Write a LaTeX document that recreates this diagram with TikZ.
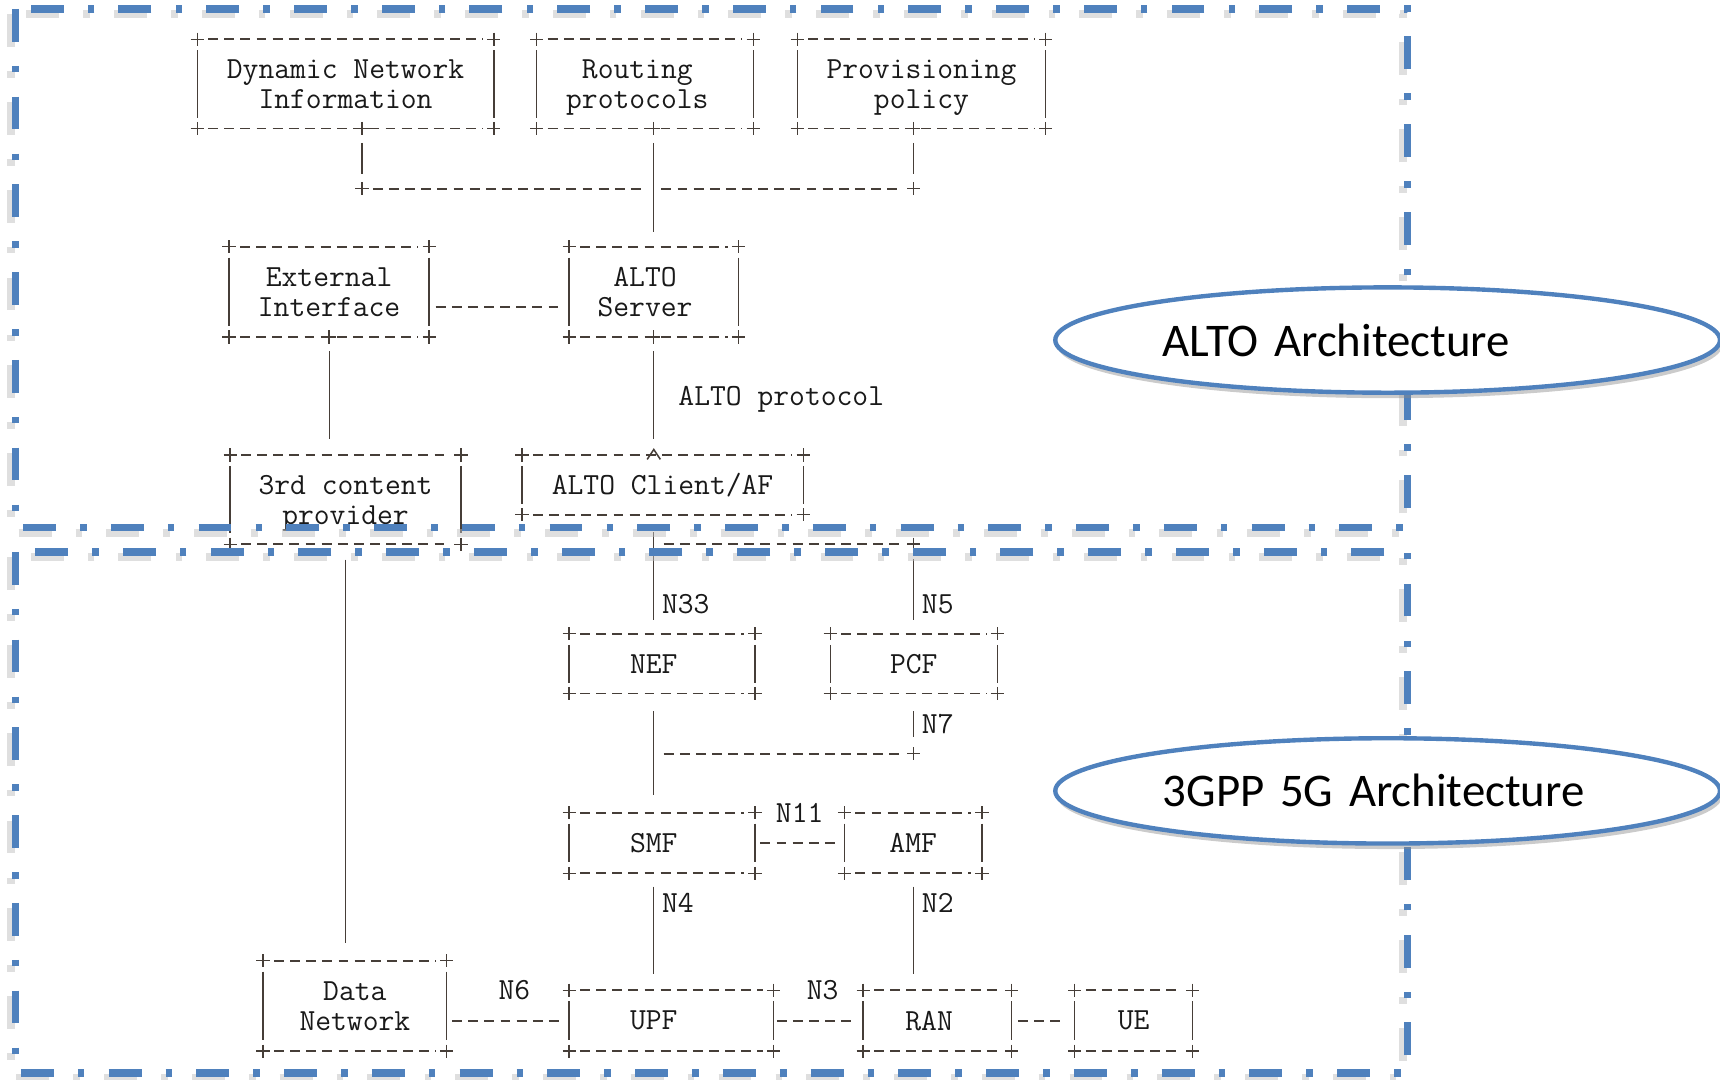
\documentclass[tikz,border=0pt]{standalone}
\usepackage{fontspec}
\usepackage{xcolor}
\usepackage{tikz}
\usetikzlibrary{positioning, calc, shapes.geometric, shadows}
\newfontfamily\calibrifont{Carlito}
\definecolor{frameblue}{RGB}{79,129,189}
\definecolor{asciiline}{RGB}{70,62,56}
\definecolor{asciitext}{RGB}{25,25,25}
\newcommand{\asciifont}{\fontsize{28}{27.3}\selectfont\ttfamily}
\newcommand{\nodesc}[1]{\raisebox{0pt}[\height][0pt]{#1}}
\newcommand{\plusmark}[1]{\draw[asciisolid] #1 ++(-6,0) -- ++(12,0) #1 ++(0,-6) -- ++(0,12);}

\begin{document}
\begin{tikzpicture}[x=1pt, y=-1pt,
    asciibox/.style={inner sep=0pt, align=center, font=\asciifont, text=asciitext},
    hlink/.style={draw=asciiline, line width=1.7pt, dash pattern=on 9pt off 5.7pt},
    vlink/.style={draw=asciiline, line width=1pt, shorten <=13pt, shorten >=13pt},
    asciisolid/.style={draw=asciiline, line width=1.2pt},
    lbl/.style={font=\asciifont, text=asciitext, inner sep=0pt},
    frame/.style={draw=frameblue, line width=7pt, dash pattern=on 30pt off 22pt on 6pt off 22pt},
    frameshade/.style={frame, draw=black!25, opacity=.5},
    archell/.style={ellipse, draw=frameblue, line width=4pt, fill=white,
        minimum width=606, minimum height=96, text width=410pt, align=left,
        font=\fontsize{42.7}{50}\calibrifont,
        drop shadow={shadow xshift=2pt, shadow yshift=-5pt, fill=black!45, opacity=.45}}
]
\useasboundingbox (0,0) rectangle (1568,984);

% ALTO side
\node[asciibox, minimum width=270, minimum height=81] (dni) at (315,76.5) {Dynamic Network\\Information};
\node[asciibox, minimum width=197, minimum height=81] (rtp) at (588,76.5) {Routing\hspace*{14pt}\\\nodesc{protocols}\hspace*{14pt}};
\node[asciibox, minimum width=226, minimum height=81] (pol) at (840,76.5) {Provisioning\\\nodesc{policy}};
\node[asciibox, minimum width=182, minimum height=82] (ext) at (300,266) {External\\Interface};
\node[asciibox, minimum width=154, minimum height=82] (srv) at (596,266) {ALTO\hspace*{16pt}\\Server\hspace*{16pt}};
\node[asciibox, minimum width=210, minimum height=81] (cnt) at (315,455.5) {3rd content\\\nodesc{provider}};
\node[asciibox, minimum width=256, minimum height=54] (cli) at (604,442) {ALTO Client/AF};

% 3GPP side
\node[asciibox, minimum width=169, minimum height=54] (nef) at (603.5,605) {NEF\hspace*{15pt}};
\node[asciibox, minimum width=152, minimum height=54] (pcf) at (833,605) {PCF};
\node[asciibox, minimum width=169, minimum height=55] (smf) at (603.5,768.5) {SMF\hspace*{15pt}};
\node[asciibox, minimum width=125, minimum height=55] (amf) at (832.5,768.5) {AMF};
\node[asciibox, minimum width=167, minimum height=82] (dn) at (323.5,917) {Data\\Network};
\node[asciibox, minimum width=186, minimum height=55] (upf) at (612,930.5) {UPF\hspace*{32pt}};
\node[asciibox, minimum width=135, minimum height=55] (ran) at (854.5,930.5) {RAN\hspace*{15pt}};
\node[asciibox, minimum width=107, minimum height=55] (ue) at (1033.5,930.5) {UE};

% box borders, ascii style
\foreach \b in {dni,rtp,pol,ext,srv,cnt,cli,nef,pcf,smf,amf,dn,upf,ran,ue}{
    \draw[hlink] ([xshift=10pt]\b.north west) -- ([xshift=-10pt]\b.north east)
                 ([xshift=10pt]\b.south west) -- ([xshift=-10pt]\b.south east);
    \draw[asciisolid] ([yshift=-10pt]\b.north west) -- ([yshift=10pt]\b.south west)
                      ([yshift=-10pt]\b.north east) -- ([yshift=10pt]\b.south east);
    \foreach \c in {north west,north east,south west,south east}{
        \plusmark{(\b.\c)}
    }
}

% inputs of the ALTO server
\coordinate (busL) at (330,172);
\coordinate (busR) at (833,172);
\draw[vlink] (dni.south -| busL) -- (busL);
\draw[vlink] (pol.south -| busR) -- (busR);
\draw[vlink] (rtp.south -| srv) -- (srv.north);
\draw[hlink] ([xshift=10pt]busL) -- ([xshift=-7pt]busL -| srv);
\draw[hlink] ([xshift=7pt]busL -| srv) -- ([xshift=-10pt]busR);
\plusmark{(dni.south -| busL)}
\plusmark{(rtp.south -| srv)}
\plusmark{(pol.south -| busR)}
\plusmark{(busL)}
\plusmark{(busR)}

\draw[hlink, shorten <=6pt, shorten >=6pt] ($(ext.east)+(0,14)$) -- ($(srv.west)+(0,14)$);
\draw[vlink, shorten >=15pt] (ext.south) -- (ext.south |- cnt.north);
\draw[vlink, shorten >=15pt] (srv.south) -- (cli.north -| srv)
    node[lbl, midway, anchor=base west, xshift=22pt, yshift=-8.5pt] {ALTO protocol};
\plusmark{(ext.south)}
\plusmark{(srv.south)}
\draw[asciisolid, line width=1.4pt] ($(cli.north -| srv)+(-6,4)$) -- ++(6,-9) -- ++(6,9);

% ALTO client towards the core
\coordinate (j1) at (596,496);
\coordinate (j2) at (596,687);
\draw[vlink, shorten <=16pt] (cli.south -| srv) -- (nef.north -| srv)
    node[lbl, pos=.752, anchor=west, xshift=7pt] {N33};
\draw[hlink] ([xshift=9pt]j1) -- ([xshift=-10pt]j1 -| pcf);
\draw[vlink, shorten <=14pt] (j1 -| pcf) -- (pcf.north)
    node[lbl, pos=.67, anchor=west, xshift=7pt] {N5};
\plusmark{(j1 -| pcf)}
\draw[vlink, shorten <=14pt, shorten >=16pt] (cnt.south) -- (cnt.south |- dn.north);

% 5G core
\draw[vlink, shorten <=16pt, shorten >=16pt] (nef.south -| srv) -- (smf.north -| srv);
\draw[hlink] ([xshift=9pt]j2) -- ([xshift=-10pt]j2 -| pcf);
\draw[vlink, shorten <=16pt, shorten >=15pt] (pcf.south) -- (j2 -| pcf)
    node[lbl, pos=.51, anchor=west, xshift=7pt] {N7};
\plusmark{(j2 -| pcf)}
\draw[hlink, shorten <=5pt, shorten >=5pt] (smf.east) -- (amf.west)
    node[lbl, midway, yshift=27pt] {N11};
\draw[vlink, shorten <=12pt, shorten >=15pt] (smf.south -| srv) -- (upf.north -| srv)
    node[lbl, pos=.25, anchor=west, xshift=7pt] {N4};
\draw[vlink, shorten <=12pt, shorten >=15pt] (amf.south -| pcf) -- (ran.north -| pcf)
    node[lbl, pos=.25, anchor=west, xshift=7pt] {N2};
\draw[hlink, shorten <=5pt, shorten >=6pt] (dn.east |- upf.west) -- (upf.west)
    node[lbl, midway, xshift=6pt, yshift=28pt] {N6};
\draw[hlink, shorten <=3pt, shorten >=7pt] (upf.east) -- (ran.west)
    node[lbl, midway, xshift=4pt, yshift=28pt] {N3};
\draw[hlink, shorten <=6pt, shorten >=8pt] (ran.east) -- (ue.west);

% the two domains
\begin{scope}[shift={(-4,5)}]
    \draw[frameshade] (14,8) rectangle (1283,481);
    \draw[frameshade] (14,503) rectangle (1283,978);
\end{scope}
\draw[frame] (14,8) rectangle (1283,481);
\draw[frame] (14,503) rectangle (1283,978);

\node[archell] (altoarch) at (1265,310) {ALTO Architecture};
\node[archell] (gpparch) at (1265,721) {3GPP 5G Architecture};

\end{tikzpicture}
\end{document}
